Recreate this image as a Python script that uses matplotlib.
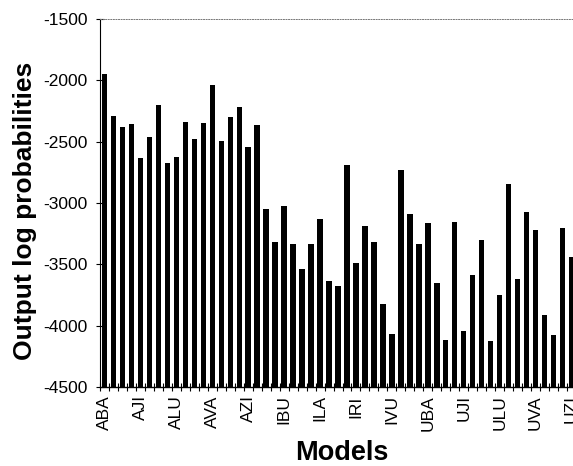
import matplotlib
matplotlib.use("Agg")
import matplotlib.pyplot as plt
import numpy as np

plt.rcParams['font.family'] = ['Liberation Sans', 'DejaVu Sans']

models = ["ABA", "ABI", "ABU", "AJA", "AJI", "AJU", "ALA", "ALI", "ALU",
          "ARA", "ARI", "ARU", "AVA", "AVI", "AVU", "AZA", "AZI", "AZU",
          "IBA", "IBI", "IBU", "IJA", "IJI", "IJU", "ILA", "ILI", "ILU",
          "IRA", "IRI", "IRU", "IVA", "IVI", "IVU", "IZA", "IZI", "IZU",
          "UBA", "UBI", "UBU", "UJA", "UJI", "UJU", "ULA", "ULI", "ULU",
          "URA", "URI", "URU", "UVA", "UVI", "UVU", "UZA", "UZI"]
log_probs = [-1951, -2291, -2383, -2359, -2636, -2460, -2201, -2672, -2626,
             -2337, -2479, -2351, -2041, -2492, -2297, -2215, -2547, -2365,
             -3050, -3314, -3025, -3333, -3540, -3333, -3131, -3632, -3673,
             -2694, -3491, -3191, -3319, -3823, -4067, -2735, -3088, -3336,
             -3161, -3654, -4116, -3153, -4045, -3583, -3298, -4127, -3752,
             -2849, -3621, -3072, -3224, -3910, -4076, -3202, -3442]
yticks = [-4500, -4000, -3500, -3000, -2500, -2000, -1500]
base = -4500

fig = plt.figure(figsize=(5.73, 4.66), dpi=100)
# plot area runs past the right edge of the picture, as in the original scan
ax = fig.add_axes([100 / 573, 79 / 466, 485 / 573, 368 / 466])

x = np.arange(len(models))
vals = np.array(log_probs)
ax.bar(x, vals - base, bottom=base, width=0.6, color="black")

ax.set_xlim(-0.5, 53.5)
ax.set_ylim(-4500, -1500)
ax.set_yticks(yticks)
ax.set_yticklabels([str(v) for v in yticks], fontsize=12.5)

ax.set_xticks(x[::4])
ax.set_xticklabels(models[::4], rotation=90, fontsize=12.5)
ax.tick_params(axis="x", length=0, pad=6)
ax.set_xticks(np.arange(len(models) + 1) - 0.5, minor=True)
ax.tick_params(axis="x", which="minor", direction="inout", length=6, width=0.8)
ax.tick_params(axis="y", direction="inout", length=6, width=0.8, pad=6)

ax.spines["right"].set_visible(False)
ax.spines["top"].set_linestyle(":")
ax.spines["top"].set_color("#777777")
ax.spines["top"].set_linewidth(0.7)
ax.spines["left"].set_linewidth(0.8)
ax.spines["bottom"].set_linewidth(1.0)

ax.set_ylabel("Output log probabilities", fontsize=19, fontweight="bold")
ax.yaxis.set_label_coords(-0.130, 0.478)
ax.set_xlabel("Models", fontsize=19.5, fontweight="bold")
ax.xaxis.set_label_coords(0.498, -0.143)

fig.savefig("out.png", dpi=100)
